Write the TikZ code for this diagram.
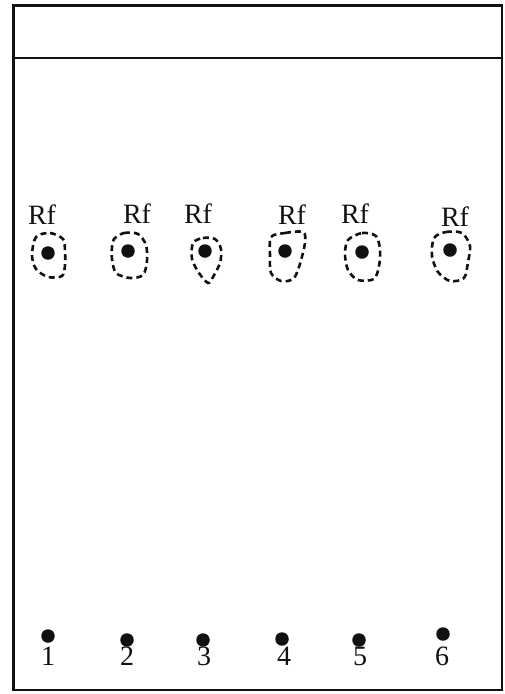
\documentclass[tikz,border=0pt]{standalone}
\usepackage{fontspec}
\setmainfont{Liberation Serif}
\usetikzlibrary{positioning}
\definecolor{tlcink}{HTML}{111111}
\tikzset{
  tlc text/.style={font=\fontsize{28}{31}\selectfont, text=tlcink},
  tlc edge/.style={draw=tlcink, line width=1.4pt},
  tlc plate/.style={draw=tlcink, line width=3pt},
  tlc front/.style={draw=tlcink, line width=2.4pt},
  tlc spot/.style={circle, fill=tlcink, inner sep=0pt, minimum size=13.5pt},
  tlc halo/.style={draw=tlcink, line width=2.6pt, dash pattern=on 6pt off 4pt},
  tlc num/.style={inner sep=0pt},
  tlc rf/.style={inner sep=0pt, anchor=base}
}

\begin{document}
\begin{tikzpicture}[tlc text, x=1pt, y=-1pt]
  \useasboundingbox (0,0) rectangle (504,694);
  % plate
  \draw[tlc edge] (13,5) rectangle (502,690);
  \draw[tlc plate] (13,690) -- (13,5) -- (502,5);
  \draw[tlc front] (13,58) -- (502,58);
  % start spots
  \node[tlc spot] (b1) at (48,636) {};
  \node[tlc spot] (b2) at (127,640) {};
  \node[tlc spot] (b3) at (203,640) {};
  \node[tlc spot] (b4) at (282,639) {};
  \node[tlc spot] (b5) at (359,640) {};
  \node[tlc spot] (b6) at (443,634) {};
  \node[tlc num, anchor=base] (n1) at (48,665) {1};
  \node[tlc num, anchor=base] (n2) at (127,665) {2};
  \node[tlc num, anchor=base] (n3) at (204,665) {3};
  \node[tlc num, anchor=base] (n4) at (284,665) {4};
  \node[tlc num, anchor=base] (n5) at (360,665) {5};
  \node[tlc num, anchor=base] (n6) at (442,665) {6};
  % developed spots
  \node[tlc spot] (a1) at (48,253) {};
  \node[tlc spot] (a2) at (128,251) {};
  \node[tlc spot] (a3) at (205,251) {};
  \node[tlc spot] (a4) at (285,251) {};
  \node[tlc spot] (a5) at (362,252) {};
  \node[tlc spot] (a6) at (450,250) {};
  \draw[tlc halo, shift={(a1.center)}] plot[smooth cycle] coordinates
    {(-12,-16) (2,-20) (15,-14) (17,-2) (17,12) (14,23) (0,24) (-12,16) (-16,2)};
  \draw[tlc halo, shift={(a2.center)}] plot[smooth cycle] coordinates
    {(-14,-12) (-4,-18) (10,-17) (18,-6) (19,10) (15,24) (2,27) (-12,22) (-16,8) (-16,-4)};
  \draw[tlc halo, shift={(a3.center)}] plot[smooth cycle] coordinates
    {(-12,-8) (-2,-13) (10,-12) (16,-2) (15,12) (8,26) (3,32) (-6,22) (-13,8)};
  \draw[tlc halo, shift={(a4.center)}] plot[smooth cycle] coordinates
    {(-14,-14) (0,-18) (18,-19) (20,-8) (14,16) (8,28) (-4,30) (-14,22) (-15,4)};
  \draw[tlc halo, shift={(a5.center)}] plot[smooth cycle] coordinates
    {(-14,-12) (0,-19) (14,-16) (18,-2) (17,14) (12,27) (-4,28) (-14,18) (-17,2)};
  \draw[tlc halo, shift={(a6.center)}] plot[smooth cycle] coordinates
    {(-16,-12) (-4,-18) (12,-17) (20,-4) (18,12) (14,28) (0,31) (-12,22) (-18,6)};
  \node[tlc rf] (r1) at (42,224) {Rf};
  \node[tlc rf] (r2) at (137,223) {Rf};
  \node[tlc rf] (r3) at (198,223) {Rf};
  \node[tlc rf] (r4) at (292,224) {Rf};
  \node[tlc rf] (r5) at (355,223) {Rf};
  \node[tlc rf] (r6) at (455,226) {Rf};
\end{tikzpicture}
\end{document}
